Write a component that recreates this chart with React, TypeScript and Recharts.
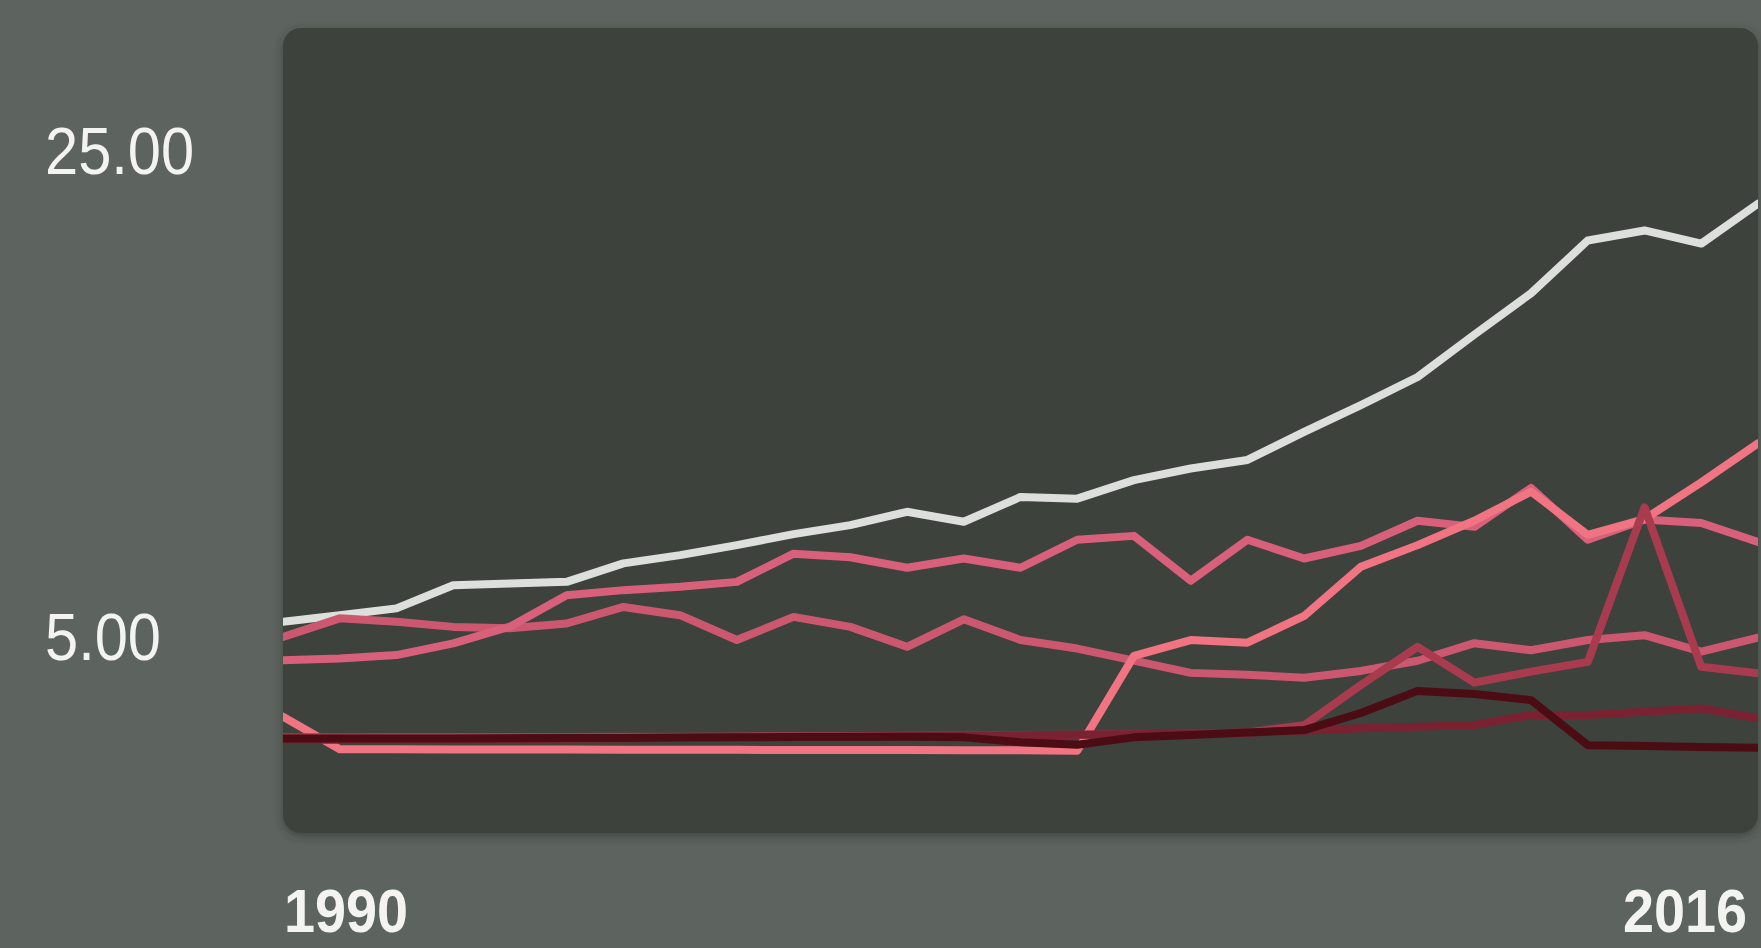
import React from 'react';
import { LineChart, Line, XAxis, YAxis, ReferenceArea } from 'recharts';

const years = [1990,1991,1992,1993,1994,1995,1996,1997,1998,1999,2000,2001,2002,2003,2004,2005,2006,2007,2008,2009,2010,2011,2012,2013,2014,2015,2016];

const seriesWhite = [5.6,5.87,6.15,7.1,7.17,7.24,8.0,8.34,8.75,9.2,9.57,10.12,9.71,10.73,10.66,11.42,11.9,12.25,13.4,14.5,15.66,17.4,19.1,21.27,21.68,21.14,22.78];
const seriesUpper = [4.02,4.09,4.23,4.71,5.4,6.69,6.9,7.04,7.24,8.4,8.25,7.82,8.2,7.82,8.97,9.13,7.29,8.97,8.2,8.72,9.75,9.5,11.1,8.97,9.8,9.66,8.88];
const seriesWiggle = [4.98,5.74,5.6,5.39,5.33,5.53,6.21,5.87,4.85,5.8,5.39,4.57,5.7,4.85,4.5,4.0,3.5,3.42,3.3,3.58,4.0,4.72,4.43,4.85,5.05,4.37,4.95];
const seriesBright = [1.7,0.36,0.36,0.35,0.35,0.35,0.34,0.34,0.34,0.33,0.33,0.33,0.32,0.32,0.3,4.2,4.85,4.74,5.84,7.86,8.75,9.75,10.95,9.17,9.82,11.33,12.93];
const seriesRose = [0.85,0.85,0.86,0.86,0.87,0.87,0.88,0.88,0.89,0.9,0.9,0.92,0.93,0.95,0.96,0.98,1.0,1.05,1.35,3.0,4.57,3.1,3.55,3.95,10.3,3.75,3.48];
const seriesDarkRed = [0.75,0.75,0.76,0.77,0.78,0.79,0.8,0.82,0.84,0.86,0.88,0.9,0.92,0.94,0.96,0.98,1.0,1.05,1.12,1.22,1.29,1.36,1.77,1.77,1.9,2.04,1.63];
const seriesMaroon = [0.8,0.8,0.8,0.8,0.81,0.82,0.82,0.84,0.85,0.86,0.87,0.88,0.85,0.65,0.55,0.85,0.95,1.05,1.15,1.85,2.76,2.63,2.38,0.53,0.5,0.45,0.42];

const yTicks = [5, 25];
const xTicks = [1990, 2016];
const yTickLabels = ['5.00', '25.00'];

const data = years.map((year, i) => ({
  year,
  white: seriesWhite[i],
  upper: seriesUpper[i],
  wiggle: seriesWiggle[i],
  bright: seriesBright[i],
  rose: seriesRose[i],
  darkRed: seriesDarkRed[i],
  maroon: seriesMaroon[i],
}));

const FONT = '"Liberation Sans", Arial, sans-serif';

const YTick = (props: any) => {
  const { y, payload } = props;
  const idx = yTicks.indexOf(payload.value);
  return (
    <g transform={`translate(45, ${y + 24}) scale(0.89, 1)`}>
      <text x={0} y={0} textAnchor="start" fill="#f3f3f0" fontSize={67} fontFamily={FONT}>
        {yTickLabels[idx] ?? payload.value.toFixed(2)}
      </text>
    </g>
  );
};

const XTick = (props: any) => {
  const { x, payload } = props;
  const first = payload.value === xTicks[0];
  return (
    <g transform={`translate(${first ? x + 1 : x + 2}, 932) scale(0.9, 1)`}>
      <text x={0} y={0} textAnchor={first ? 'start' : 'end'} fill="#f3f3f0" fontSize={62} fontWeight="bold" fontFamily={FONT}>
        {payload.value}
      </text>
    </g>
  );
};

const Panel = (props: any) => {
  const { x, y, width, height } = props;
  return (
    <g>
      <defs>
        <filter id="panelShadow" x="-5%" y="-5%" width="110%" height="115%">
          <feDropShadow dx="0" dy="3" stdDeviation="5" floodColor="#2c302c" floodOpacity="0.55" />
        </filter>
      </defs>
      <rect x={x} y={y} width={width} height={height} rx={18} ry={18} fill="#3e433e" filter="url(#panelShadow)" />
    </g>
  );
};

const lineCommon = { type: 'linear' as const, dot: false, isAnimationActive: false, strokeWidth: 8, strokeLinejoin: 'round' as const, strokeLinecap: 'round' as const };

export default function App() {
  return (
    <div style={{ position: 'absolute', left: 0, top: 0, width: 1761, height: 948, background: '#5d635e', overflow: 'hidden' }}>
      <LineChart width={1761} height={948} data={data} margin={{ top: 28, right: 3, bottom: 0, left: 0 }}>
        <XAxis dataKey="year" type="number" domain={[1990, 2016]} ticks={xTicks} tick={<XTick />} axisLine={false} tickLine={false} height={115} allowDataOverflow />
        <YAxis type="number" domain={[-3.08, 30]} ticks={yTicks} tick={<YTick />} axisLine={false} tickLine={false} width={283} allowDataOverflow />
        <ReferenceArea x1={1990} x2={2016} y1={-3.08} y2={30} shape={<Panel />} ifOverflow="visible" />
        <Line {...lineCommon} dataKey="white" stroke="#dcdfdb" />
        <Line {...lineCommon} dataKey="wiggle" stroke="#cc5870" />
        <Line {...lineCommon} dataKey="upper" stroke="#d9607a" />
        <Line {...lineCommon} dataKey="bright" stroke="#f07482" />
        <Line {...lineCommon} dataKey="rose" stroke="#a83c4e" />
        <Line {...lineCommon} dataKey="darkRed" stroke="#7a2232" />
        <Line {...lineCommon} dataKey="maroon" stroke="#4c0c14" />
      </LineChart>
    </div>
  );
}
